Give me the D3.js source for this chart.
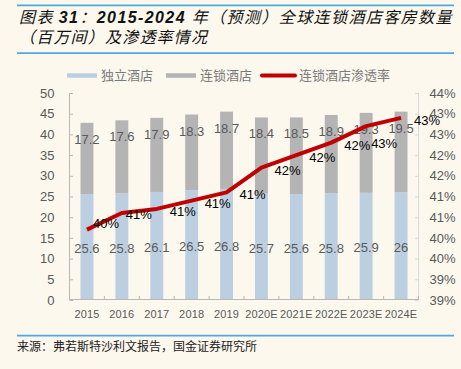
<!DOCTYPE html>
<html>
<head>
<meta charset="utf-8">
<script src="https://cdn.jsdelivr.net/npm/d3@7"></script>
<style>
  body { margin: 0; background: #fcf8ee; }
  svg { display: block; }
</style>
</head>
<body>
<script>
// chart data
var years = ["2015", "2016", "2017", "2018", "2019", "2020E", "2021E", "2022E", "2023E", "2024E"];
var independent = [25.6, 25.8, 26.1, 26.5, 26.8, 25.7, 25.6, 25.8, 25.9, 26];
var chain = [17.2, 17.6, 17.9, 18.3, 18.7, 18.4, 18.5, 18.9, 19.3, 19.5];
var penetration = [40.2, 40.6, 40.7, 40.9, 41.1, 41.7, 42.0, 42.3, 42.7, 42.9];
var leftTicks = [0, 5, 10, 15, 20, 25, 30, 35, 40, 45, 50];
var rightTicks = [38.5, 39, 39.5, 40, 40.5, 41, 41.5, 42, 42.5, 43, 43.5];
var seriesNames = ["独立酒店", "连锁酒店", "连锁酒店渗透率"];

var svgWidth = 461;
var svgHeight = 369;
var plot = { left: 69.5, right: 418.5, top: 93, bottom: 300 };

var blue = "#bccfe1", gray = "#b4b4b4", red = "#c00000";
var font = "'Liberation Sans', Arial, sans-serif";
var cjk = "'Noto Sans CJK SC', sans-serif";

var svg = d3.select("body")
  .append("svg")
  .attr("width", svgWidth)
  .attr("height", svgHeight);

svg.append("rect").attr("width", svgWidth).attr("height", svgHeight).attr("fill", "#fcf8ee");

// header rules + title
svg.append("line").attr("x1", 17).attr("x2", 454).attr("y1", 5.3).attr("y2", 5.3)
  .attr("stroke", "#4fa9e0").attr("stroke-width", 1.8);
svg.append("line").attr("x1", 17).attr("x2", 454).attr("y1", 53.2).attr("y2", 53.2)
  .attr("stroke", "#4fa9e0").attr("stroke-width", 1.8);

var t1 = svg.append("text")
  .attr("x", 19).attr("y", 23)
  .style("font-family", cjk).style("font-size", "16px").style("font-style", "italic")
  .style("letter-spacing", "1.4px")
  .attr("fill", "#111");
t1.append("tspan").text("图表 ");
t1.append("tspan").style("font-family", font).style("font-weight", "bold").text("31");
t1.append("tspan").text("：");
t1.append("tspan").style("font-family", font).style("font-weight", "bold").text("2015-2024 ");
t1.append("tspan").text("年（预测）全球连锁酒店客房数量");

svg.append("text")
  .attr("x", 19).attr("y", 43)
  .style("font-family", cjk).style("font-size", "16px").style("font-style", "italic")
  .style("letter-spacing", "1.2px")
  .attr("fill", "#111")
  .text("（百万间）及渗透率情况");

// footer
svg.append("line").attr("x1", 17).attr("x2", 454).attr("y1", 335.7).attr("y2", 335.7)
  .attr("stroke", "#4fa9e0").attr("stroke-width", 1.8);
svg.append("text")
  .attr("x", 17).attr("y", 351)
  .style("font-family", cjk).style("font-size", "12px")
  .attr("fill", "#222")
  .text("来源：弗若斯特沙利文报告，国金证券研究所");

// scales
var xBand = d3.scaleBand()
  .domain(years)
  .range([plot.left, plot.right])
  .paddingInner(0.63)
  .paddingOuter(0.315);

var yLeft = d3.scaleLinear().domain([0, 50]).range([plot.bottom, plot.top]);
var yRight = d3.scaleLinear().domain([38.5, 43.5]).range([plot.bottom, plot.top]);

var cx = function(i) { return xBand(years[i]) + xBand.bandwidth() / 2; };

// axes
var leftAxis = d3.axisLeft(yLeft).tickValues(leftTicks).tickSize(-3.5).tickPadding(15);
var rightAxis = d3.axisRight(yRight).tickValues(rightTicks).tickSize(-3.5).tickPadding(15)
  .tickFormat(function(d) { return Math.round(d) + "%"; });

var gl = svg.append("g").attr("transform", "translate(" + plot.left + ",0)").call(leftAxis);
gl.select(".domain").attr("d", "M0," + plot.top + "V" + plot.bottom);
gl.selectAll("line, path").attr("stroke", "#b8b8b8");
gl.selectAll("text").style("font-family", font).style("font-size", "13px").attr("fill", "#595959");

var gr = svg.append("g").attr("transform", "translate(" + plot.right + ",0)").call(rightAxis);
gr.select(".domain").attr("d", "M0," + plot.top + "V" + plot.bottom);
gr.selectAll("line, path").attr("stroke", "#dadada");
gr.selectAll("text").style("font-family", font).style("font-size", "13px").attr("fill", "#595959")
  .attr("x", 11);

// bars
var bars = svg.append("g");
bars.selectAll(".ind")
  .data(independent)
  .enter()
  .append("rect")
  .attr("class", "ind")
  .attr("x", function(d, i) { return xBand(years[i]); })
  .attr("y", function(d) { return yLeft(d); })
  .attr("width", xBand.bandwidth())
  .attr("height", function(d) { return yLeft(0) - yLeft(d); })
  .attr("fill", blue);

bars.selectAll(".chn")
  .data(chain)
  .enter()
  .append("rect")
  .attr("class", "chn")
  .attr("x", function(d, i) { return xBand(years[i]); })
  .attr("y", function(d, i) { return yLeft(independent[i] + d); })
  .attr("width", xBand.bandwidth())
  .attr("height", function(d, i) { return yLeft(independent[i]) - yLeft(independent[i] + d); })
  .attr("fill", gray);

// bottom axis: category boundaries ticks
var gb = svg.append("g");
gb.append("line").attr("x1", plot.left).attr("x2", plot.right)
  .attr("y1", plot.bottom - 0.5).attr("y2", plot.bottom - 0.5).attr("stroke", "#b8b8b8");
var step = xBand.step();
gb.selectAll(".btick")
  .data(d3.range(years.length + 1))
  .enter()
  .append("line")
  .attr("x1", function(k) { return plot.left + k * step; })
  .attr("x2", function(k) { return plot.left + k * step; })
  .attr("y1", plot.bottom - 0.5).attr("y2", plot.bottom - 4)
  .attr("stroke", "#b8b8b8");
gb.selectAll(".blab")
  .data(years)
  .enter()
  .append("text")
  .attr("x", function(d, i) { return cx(i); })
  .attr("y", 318)
  .attr("text-anchor", "middle")
  .style("font-family", font).style("font-size", "11px").style("letter-spacing", "0.15px")
  .attr("fill", "#595959")
  .text(function(d) { return d; });

// bar value labels
svg.selectAll(".indLab")
  .data(independent)
  .enter()
  .append("text")
  .attr("x", function(d, i) { return cx(i); })
  .attr("y", function(d) { return (yLeft(0) + yLeft(d)) / 2 + 6; })
  .attr("text-anchor", "middle")
  .style("font-family", font).style("font-size", "13px")
  .attr("fill", "#595959")
  .text(function(d) { return d; });

svg.selectAll(".chnLab")
  .data(chain)
  .enter()
  .append("text")
  .attr("x", function(d, i) { return cx(i); })
  .attr("y", function(d, i) { return yLeft(independent[i] + d) + 21; })
  .attr("text-anchor", "middle")
  .style("font-family", font).style("font-size", "13px")
  .attr("fill", "#595959")
  .text(function(d) { return d; });

// penetration line
var line = d3.line()
  .x(function(d, i) { return cx(i); })
  .y(function(d) { return yRight(d); });

svg.append("path")
  .datum(penetration)
  .attr("d", line)
  .attr("fill", "none")
  .attr("stroke", red)
  .attr("stroke-width", 4)
  .attr("stroke-linejoin", "round");

// label nudges (default: right of point)
var nudge = { 0: [6, -8], 1: [4, 0], 8: [5, 16] };
svg.selectAll(".penLab")
  .data(penetration)
  .enter()
  .append("text")
  .attr("x", function(d, i) { return cx(i) + (nudge[i] ? nudge[i][0] : 13); })
  .attr("y", function(d, i) { return yRight(d) + 6 + (nudge[i] ? nudge[i][1] : 1); })
  .style("font-family", font).style("font-size", "13px")
  .attr("fill", "#000")
  .text(function(d) { return Math.round(d) + "%"; });

// legend
var legend = svg.append("g");
var lx = [67, 166, 262];
var lw = [30, 30, 33];
legend.selectAll(".sw")
  .data(seriesNames)
  .enter()
  .append("line")
  .attr("x1", function(d, i) { return lx[i]; })
  .attr("x2", function(d, i) { return lx[i] + lw[i]; })
  .attr("y1", 75.5).attr("y2", 75.5)
  .attr("stroke", function(d, i) { return [blue, gray, red][i]; })
  .attr("stroke-width", function(d, i) { return i === 2 ? 4 : 4.5; })
  .attr("stroke-linecap", function(d, i) { return i === 2 ? "round" : "butt"; });
legend.selectAll(".lt")
  .data(seriesNames)
  .enter()
  .append("text")
  .attr("x", function(d, i) { return lx[i] + lw[i] + 4; })
  .attr("y", 80)
  .style("font-family", cjk).style("font-size", "13px")
  .attr("fill", "#7a7a7a")
  .text(function(d) { return d; });
</script>
</body>
</html>
